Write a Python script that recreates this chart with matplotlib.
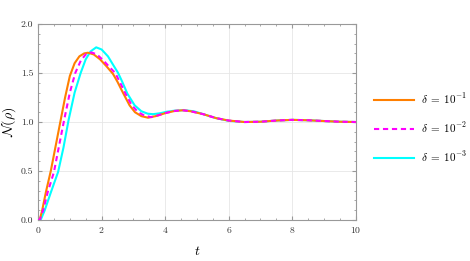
import numpy as np
import matplotlib
matplotlib.use("Agg")
import matplotlib.pyplot as plt
from matplotlib.ticker import MultipleLocator

plt.rcParams['font.family'] = 'serif'
plt.rcParams['font.serif'] = ['cmr10', 'DejaVu Serif']
plt.rcParams['mathtext.fontset'] = 'cm'
plt.rcParams['axes.formatter.use_mathtext'] = True

# values
t1 = [0, 0.05, 0.13, 0.25, 0.4, 0.55, 0.7, 0.85, 1.0, 1.15, 1.3, 1.45, 1.57, 1.75, 1.95,
      2.15, 2.36, 2.5, 2.67, 2.88, 3.05, 3.25, 3.46, 3.7, 4.0, 4.3, 4.55, 4.8, 5.2, 5.6,
      6.0, 6.5, 7.0, 7.5, 8.0, 8.5, 9.0, 9.5, 10]
n1 = [0.0, 0.0, 0.10, 0.29, 0.50, 0.75, 1.0, 1.25, 1.47, 1.60, 1.67, 1.70, 1.707, 1.69,
      1.64, 1.57, 1.49, 1.41, 1.30, 1.17, 1.10, 1.06, 1.044, 1.06, 1.09, 1.113, 1.12,
      1.11, 1.08, 1.04, 1.015, 1.0, 1.003, 1.015, 1.022, 1.018, 1.01, 1.003, 1.0]

t2 = [0, 0.05, 0.16, 0.3, 0.5, 0.65, 0.82, 1.0, 1.17, 1.35, 1.5, 1.68, 1.85, 2.05, 2.25,
      2.43, 2.6, 2.75, 2.95, 3.15, 3.35, 3.56, 3.8, 4.05, 4.3, 4.55, 4.8, 5.2, 5.6, 6.0,
      6.5, 7.0, 7.5, 8.0, 8.5, 9.0, 9.5, 10]
n2 = [0.0, 0.0, 0.10, 0.28, 0.49, 0.74, 1.02, 1.30, 1.50, 1.63, 1.69, 1.71, 1.69, 1.63,
      1.56, 1.50, 1.39, 1.29, 1.17, 1.10, 1.065, 1.05, 1.07, 1.095, 1.113, 1.12, 1.11,
      1.08, 1.04, 1.015, 1.0, 1.003, 1.015, 1.022, 1.018, 1.01, 1.003, 1.0]

t3 = [0, 0.08, 0.21, 0.4, 0.63, 0.8, 0.96, 1.15, 1.34, 1.5, 1.65, 1.83, 2.0, 2.2, 2.35,
      2.52, 2.65, 2.81, 3.04, 3.25, 3.45, 3.62, 3.85, 4.05, 4.3, 4.6, 4.9, 5.2, 5.6, 6.0,
      6.5, 7.0, 7.5, 8.0, 8.5, 9.0, 9.5, 10]
n3 = [0.0, 0.0, 0.10, 0.28, 0.49, 0.74, 1.02, 1.30, 1.50, 1.64, 1.72, 1.762, 1.74, 1.67,
      1.59, 1.50, 1.41, 1.29, 1.17, 1.11, 1.085, 1.08, 1.09, 1.105, 1.116, 1.12, 1.11,
      1.08, 1.04, 1.012, 1.0, 1.003, 1.015, 1.022, 1.018, 1.01, 1.003, 1.0]

labels = [r'$\delta\;=\;10^{-1}$', r'$\delta\;=\;10^{-2}$', r'$\delta\;=\;10^{-3}$']

fig = plt.figure(figsize=(4.7, 2.61), dpi=100)
ax = fig.add_axes([0.081, 0.157, 0.676, 0.751])

ax.plot(t1, n1, color='#ff7f00', lw=1.5, label=labels[0], zorder=3)
ax.plot(t2, n2, color='#ff00ff', lw=1.5, ls=(0, (2.5, 1.8)), label=labels[1], zorder=4)
ax.plot(t3, n3, color='#00ffff', lw=1.5, label=labels[2], zorder=2)

ax.set_xlim(0, 10)
ax.set_ylim(0, 2)
ax.xaxis.set_major_locator(MultipleLocator(2))
ax.xaxis.set_minor_locator(MultipleLocator(0.5))
ax.yaxis.set_major_locator(MultipleLocator(0.5))
ax.yaxis.set_minor_locator(MultipleLocator(0.1))
ax.yaxis.set_major_formatter(plt.FuncFormatter(lambda v, p: '%.1f' % v))
ax.grid(True, which='major', color='#e6e6e6', lw=0.6)
ax.set_axisbelow(True)
ax.tick_params(which='both', direction='in', top=True, right=True, colors='#999999',
               labelcolor='#333333', labelsize=7)
ax.tick_params(which='major', length=3)
ax.tick_params(which='minor', length=1.5)
for s in ax.spines.values():
    s.set_color('#999999')
    s.set_linewidth(0.8)

ax.set_xlabel(r'$t$', fontsize=10, labelpad=7)
ax.set_ylabel(r'$\mathcal{N}(\rho)$', fontsize=10, labelpad=2)

ax.legend(loc='center left', bbox_to_anchor=(0.775, 0.51), bbox_transform=fig.transFigure,
          frameon=False, fontsize=8, handlelength=3.6, labelspacing=1.3, handletextpad=0.6)

fig.savefig('out.png', dpi=100)
